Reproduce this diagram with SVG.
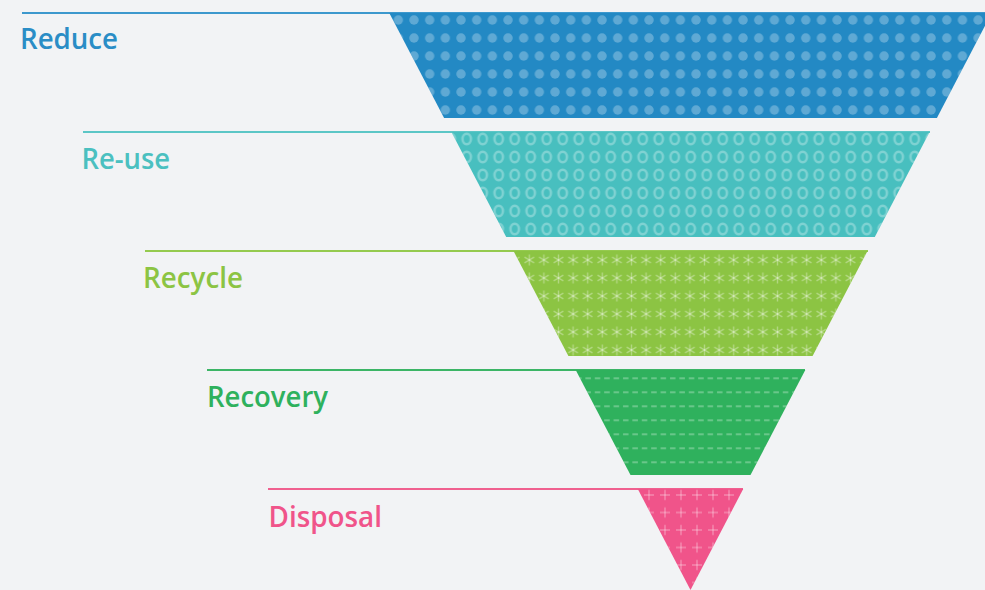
<svg xmlns="http://www.w3.org/2000/svg" width="985" height="590" viewBox="0 0 985 590">
<style>
.lbl{font-family:"Open Sans",Lato,"Liberation Sans",sans-serif;font-weight:600;font-size:28px}
.ln{stroke-width:2;fill:none}
</style>
<defs>
<pattern id="pDots" patternUnits="userSpaceOnUse" x="390.5" y="11" width="15.67" height="18">
<circle cx="7.83" cy="9" r="4.7" fill="#ffffff" fill-opacity="0.27"/>
</pattern>
<pattern id="pRings" patternUnits="userSpaceOnUse" x="458.7" y="130" width="16" height="18">
<ellipse cx="8" cy="9" rx="4.2" ry="5.3" fill="none" stroke="#ffffff" stroke-opacity="0.3" stroke-width="2.5"/>
</pattern>
<pattern id="pStars" patternUnits="userSpaceOnUse" x="522" y="251" width="14.6" height="18">
<g stroke="#ffffff" stroke-opacity="0.33" stroke-width="1.4">
<line x1="7.3" y1="3.5" x2="7.3" y2="14.5"/>
<line x1="2.5" y1="6.2" x2="12.1" y2="11.8"/>
<line x1="2.5" y1="11.8" x2="12.1" y2="6.2"/>
</g>
</pattern>
<pattern id="pDash" patternUnits="userSpaceOnUse" x="575" y="371.3" width="9.4" height="14">
<line x1="1" y1="7" x2="6.5" y2="7" stroke="#ffffff" stroke-opacity="0.33" stroke-width="1.7"/>
</pattern>
<pattern id="pPlus" patternUnits="userSpaceOnUse" x="641" y="486.25" width="16" height="17.5">
<g stroke="#ffffff" stroke-opacity="0.3" stroke-width="1.5">
<line x1="3" y1="8.75" x2="13" y2="8.75"/>
<line x1="8" y1="3.75" x2="8" y2="13.75"/>
</g>
</pattern>
</defs>
<rect width="985" height="590" fill="#f2f3f5"/>

<g id="connectors">
<line class="ln" x1="22" y1="13" x2="992" y2="13" stroke="#3d98cd"/>
<line class="ln" x1="83" y1="132" x2="930" y2="132" stroke="#5cc6c6"/>
<line class="ln" x1="145" y1="251" x2="868" y2="251" stroke="#95ca4f"/>
<line class="ln" x1="207" y1="370" x2="805" y2="370" stroke="#3cb566"/>
<line class="ln" x1="268" y1="489" x2="743" y2="489" stroke="#f0608f"/>
</g>

<g id="reduce">
<polygon points="389.3,13 991.7,13 936.9,118 444.1,118" fill="#2389c4"/>
<polygon points="389.3,13 991.7,13 936.9,118 444.1,118" fill="url(#pDots)"/>
<text class="lbl" x="20" y="48.5" fill="#2a8dc6" textLength="98" lengthAdjust="spacingAndGlyphs">Reduce</text>
</g>

<g id="reuse">
<polygon points="451.4,132 929.6,132 874.8,237 506.2,237" fill="#48bfbf"/>
<polygon points="451.4,132 929.6,132 874.8,237 506.2,237" fill="url(#pRings)"/>
<text class="lbl" x="81.5" y="169" fill="#4bc0c0" textLength="88.5" lengthAdjust="spacingAndGlyphs">Re-use</text>
</g>

<g id="recycle">
<polygon points="513.5,251 867.5,251 812.6,356 568.4,356" fill="#8cc443"/>
<polygon points="513.5,251 867.5,251 812.6,356 568.4,356" fill="url(#pStars)"/>
<text class="lbl" x="143" y="288.3" fill="#8cc443" textLength="100" lengthAdjust="spacingAndGlyphs">Recycle</text>
</g>

<g id="recovery">
<polygon points="575.7,370 805.3,370 750.5,475 630.5,475" fill="#2fb15d"/>
<polygon points="575.7,370 805.3,370 750.5,475 630.5,475" fill="url(#pDash)"/>
<text class="lbl" x="207" y="406.7" fill="#2fb15d" textLength="121" lengthAdjust="spacingAndGlyphs">Recovery</text>
</g>

<g id="disposal">
<polygon points="637.8,489 743.2,489 690.5,590" fill="#f0548a"/>
<polygon points="637.8,489 743.2,489 690.5,590" fill="url(#pPlus)"/>
<text class="lbl" x="268.5" y="526.7" fill="#f0548a" textLength="113.5" lengthAdjust="spacingAndGlyphs">Disposal</text>
</g>
</svg>
